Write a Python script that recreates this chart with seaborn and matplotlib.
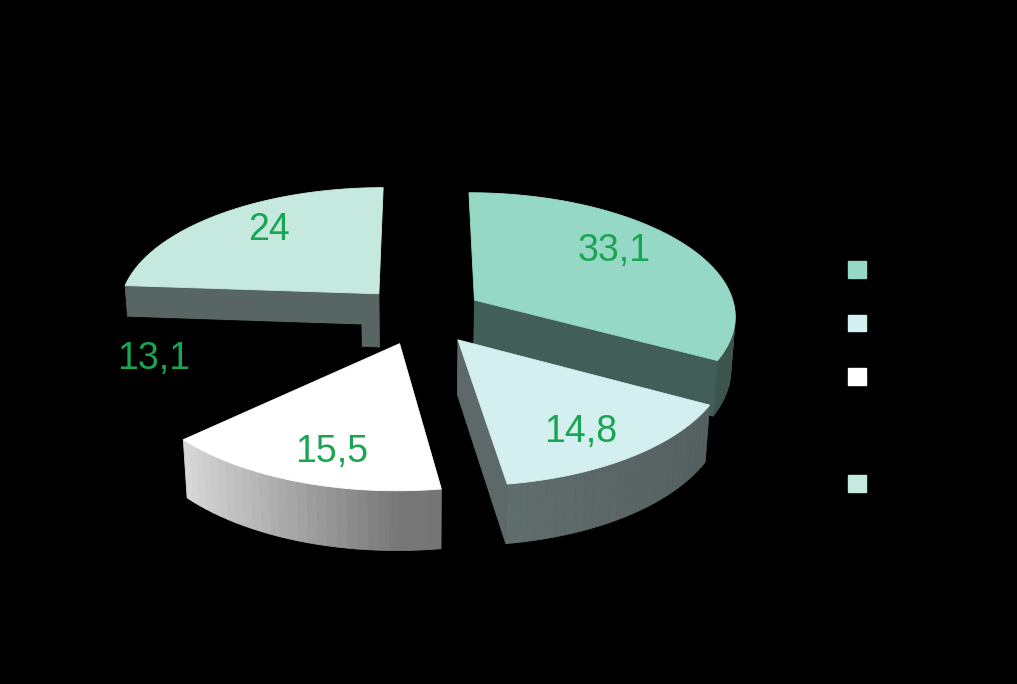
import numpy as np
import matplotlib
matplotlib.use('Agg')
import matplotlib.pyplot as plt
from matplotlib.patches import Polygon, Patch
from matplotlib.colors import to_rgb
import seaborn as sns

# data (values as printed on the chart, clockwise from 12 o'clock)
values = [33.1, 14.8, 15.5, 13.1, 24]
labels = ['33,1', '14,8', '15,5', '13,1', '24']
colors = ['#96D8C6', '#D4EFEF', '#FFFFFF', '#000000', '#C5E8DF']

sns.set_style('dark', {'axes.facecolor': 'black', 'figure.facecolor': 'black'})
plt.rcParams['font.family'] = ['Liberation Sans', 'DejaVu Sans']

# 3d look of the pie
R = 262.0          # radius
H = 62.0           # thickness
EXPLODE = 63.0
TILT = np.radians(28)
DIST = 2007.0
CX, CY = 421.0, 315.0
VIEW = np.array([0.0, -np.cos(TILT), np.sin(TILT)])
# where the value label sits: distance from slice tip, small turn (deg)
LABEL_R = [0.72, 0.78, 0.79, 0.80, 0.74]
LABEL_TURN = [6, -3, 3, 0, -4]


def project(x, y, z):
    depth = DIST + y*np.cos(TILT) - z*np.sin(TILT)
    s = DIST / depth
    return CX + x*s, CY - (y*np.sin(TILT) + z*np.cos(TILT))*s


def shade(n):
    c = np.cos(n - np.pi)
    return 0.47 + 0.52*max(c, 0) + 0.08*min(c, 0)


def draw_face(ax, pts, color, z):
    xy = np.array([project(*p) for p in pts])
    ax.add_patch(Polygon(xy, closed=True, facecolor=color, edgecolor=color,
                         linewidth=0.6, zorder=z))


fig = plt.figure(figsize=(10.17, 6.84), dpi=100)
ax = fig.add_axes([0, 0, 1, 1])
ax.set_xlim(0, 1017)
ax.set_ylim(684, 0)
ax.axis('off')

fracs = np.array(values) / np.sum(values)
starts = np.pi/2 - 2*np.pi*np.concatenate([[0], np.cumsum(fracs)[:-1]])
ends = starts - 2*np.pi*fracs
mids = (starts + ends) / 2

# paint back slices first
order = np.argsort(-np.sin(mids))
zo = 1
for i in order:
    a0, a1, m = starts[i], ends[i], mids[i]
    ox, oy = EXPLODE*np.cos(m), EXPLODE*np.sin(m)
    base = np.array(to_rgb(colors[i]))
    faces = []
    # outer wall in small pieces, shaded by direction
    ts = np.linspace(a0, a1, int(np.degrees(a0 - a1)/2) + 2)
    for t0, t1 in zip(ts[:-1], ts[1:]):
        pts = [(ox + R*np.cos(t), oy + R*np.sin(t), z)
               for t, z in [(t0, 0), (t1, 0), (t1, -H), (t0, -H)]]
        faces.append((pts, (t0 + t1)/2, shade((t0 + t1)/2)))
    # flat cut faces, evenly dark
    for a, n in [(a0, a0 + np.pi/2), (a1, a1 - np.pi/2)]:
        pts = [(ox, oy, 0), (ox + R*np.cos(a), oy + R*np.sin(a), 0),
               (ox + R*np.cos(a), oy + R*np.sin(a), -H), (ox, oy, -H)]
        faces.append((pts, n, 0.44))
    for pts, n, b in faces:
        normal = np.array([np.cos(n), np.sin(n), 0.0])
        if np.dot(normal, VIEW) > 0.005:
            draw_face(ax, pts, np.clip(base*b, 0, 1), zo)
    top = [(ox, oy, 0)] + [(ox + R*np.cos(t), oy + R*np.sin(t), 0)
                           for t in np.linspace(a0, a1, 120)]
    draw_face(ax, top, colors[i], zo + 1)
    zo += 2

# value labels
for i in range(len(values)):
    m = mids[i]
    ox, oy = EXPLODE*np.cos(m), EXPLODE*np.sin(m)
    f = LABEL_R[i]*R
    t = m + np.radians(LABEL_TURN[i])
    lx, ly = project(ox + f*np.cos(t), oy + f*np.sin(t), 0)
    ax.text(lx, ly, labels[i], fontsize=27, color='#1AA552',
            ha='center', va='center', zorder=50)

# legend (label text is black on black)
handles = [Patch(facecolor=c, edgecolor=c) for c in colors]
ax.legend(handles, [' ']*len(values), loc='upper left',
          bbox_to_anchor=(848, 261), bbox_transform=ax.transData,
          frameon=False, fontsize=14, handlelength=0.93, handleheight=0.93,
          labelspacing=1.78, borderpad=0, borderaxespad=0, labelcolor='black')

fig.savefig('out.png', dpi=100, facecolor='black')
